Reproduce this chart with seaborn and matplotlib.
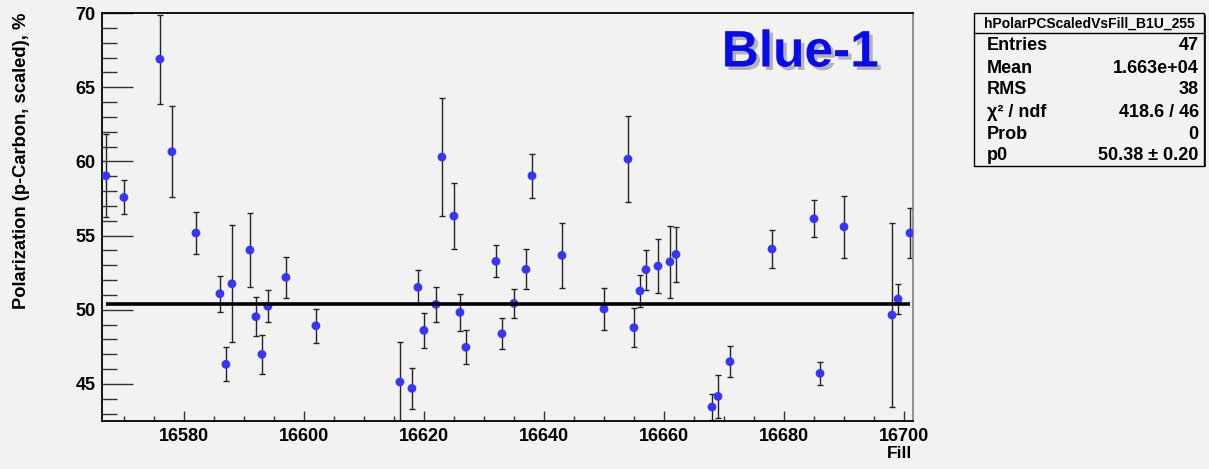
import matplotlib
matplotlib.use("Agg")
import matplotlib.pyplot as plt
from matplotlib.ticker import MultipleLocator
from matplotlib.patches import Rectangle
import matplotlib.patheffects as pe
import numpy as np
import pandas as pd
import seaborn as sns

# ---- data ----
fills = [16567, 16570, 16576, 16578, 16582, 16586, 16587, 16588, 16591, 16592,
         16593, 16594, 16597, 16602, 16616, 16618, 16619, 16620, 16622, 16623,
         16625, 16626, 16627, 16632, 16633, 16635, 16637, 16638, 16643, 16650,
         16654, 16655, 16656, 16657, 16659, 16661, 16662, 16668, 16669, 16671,
         16678, 16685, 16686, 16690, 16698, 16699, 16701]
polarization = [59.03, 57.57, 66.89, 60.65, 55.17, 51.08, 46.32, 51.75, 54.02, 49.53,
                46.99, 50.23, 52.18, 48.92, 45.13, 44.70, 51.51, 48.61, 50.36, 60.29,
                56.31, 49.82, 47.47, 53.26, 48.38, 50.43, 52.72, 59.03, 53.66, 50.05,
                60.15, 48.79, 51.26, 52.70, 52.94, 53.23, 53.73, 43.44, 44.16, 46.50,
                54.09, 56.13, 45.71, 55.59, 49.64, 50.72, 55.17]
errors = [2.80, 1.15, 3.00, 3.08, 1.40, 1.20, 1.15, 3.95, 2.48, 1.30,
          1.30, 1.07, 1.37, 1.15, 2.67, 1.39, 1.14, 1.20, 1.20, 3.98,
          2.25, 1.26, 1.14, 1.08, 1.04, 1.00, 1.35, 1.48, 2.18, 1.40,
          2.90, 1.33, 1.08, 1.35, 1.80, 2.43, 1.86, 0.90, 1.44, 1.03,
          1.26, 1.26, 0.79, 2.09, 6.18, 1.00, 1.68]
fit_p0 = 50.38
fit_range = [16567, 16701]
x_ticks = [16580, 16600, 16620, 16640, 16660, 16680, 16700]
y_ticks = [45, 50, 55, 60, 65, 70]

stats_title = "hPolarPCScaledVsFill_B1U_255"
stats_names = ["Entries", "Mean", "RMS", "χ² / ndf", "Prob", "p0"]
stats_values = ["47", "1.663e+04", "38", "418.6 / 46", "0", "50.38 ± 0.20"]

df = pd.DataFrame({"Fill": fills, "Pol": polarization, "Err": errors})

plt.rcParams['font.family'] = ['Liberation Sans', 'DejaVu Sans']
plt.rcParams['font.weight'] = 'bold'

W, H = 1209, 469
BG = '#f2f2f2'
fig = plt.figure(figsize=(W / 100, H / 100), dpi=100, facecolor=BG)

def fx(px):
    return px / W

def fy(py):
    return 1 - py / H

L, R, T, B = 102.3, 912.7, 13.0, 421.0
ax = fig.add_axes([fx(L), fy(B), (R - L) / W, (B - T) / H])
ax.set_facecolor(BG)

ax.errorbar(df["Fill"], df["Pol"], yerr=df["Err"], fmt='none', ecolor='#222222',
            elinewidth=1.0, capsize=2.5, capthick=1.0, zorder=2)
sns.scatterplot(data=df, x="Fill", y="Pol", ax=ax, color='#3535ff', s=40,
                edgecolor='none', linewidth=0, zorder=3, legend=False)
ax.hlines(fit_p0, fit_range[0], fit_range[1], colors='black', linewidth=2.6, zorder=4)

ax.set_xlim(16566.4, 16701.45)
ax.set_ylim(42.5, 70)
ax.set_xticks(x_ticks)
ax.set_yticks(y_ticks)
ax.xaxis.set_minor_locator(MultipleLocator(5))
ax.yaxis.set_minor_locator(MultipleLocator(1))
ax.tick_params(axis='y', which='major', direction='in', length=22, width=1.0,
               pad=5, labelsize=13, color='#333333')
ax.tick_params(axis='y', which='minor', direction='in', length=11, width=1.0, color='#333333')
ax.tick_params(axis='x', which='major', direction='in', length=7, width=1.0,
               pad=5, labelsize=13, color='#333333')
ax.tick_params(axis='x', which='minor', direction='in', length=3.5, width=1.0, color='#333333')
for lab in ax.get_xticklabels() + ax.get_yticklabels():
    lab.set_fontweight('bold')
ax.set_xlabel("")
ax.set_ylabel("")
for side in ['left', 'bottom', 'top']:
    ax.spines[side].set_color('black')
    ax.spines[side].set_linewidth(1.3)
ax.spines['right'].set_color('#888888')
ax.spines['right'].set_linewidth(1.3)

# axis titles
fig.text(fx(22), fy(13), "Polarization (p-Carbon, scaled), %", rotation=90,
         ha='center', va='top', fontsize=13.2, fontweight='bold')
fig.text(fx(912), fy(453), "Fill", ha='right', va='center', fontsize=12.5, fontweight='bold')

# big label
fig.text(fx(800), fy(53), "Blue-1", ha='center', va='center', fontsize=37,
         fontweight='bold', color='#0a0aee',
         path_effects=[pe.SimplePatchShadow(offset=(2.5, -2.5), shadow_rgbFace='#555555', alpha=0.4),
                       pe.Normal()])

# stats box
bx0, bx1, by0, by1 = 974.3, 1204.3, 13.3, 165.7
shadow = Rectangle((fx(bx0 + 1.5), fy(by1 + 1.5)), (bx1 - bx0) / W, (by1 - by0) / H,
                   transform=fig.transFigure, facecolor='#333333', edgecolor='none', zorder=1)
fig.patches.append(shadow)
box = Rectangle((fx(bx0), fy(by1)), (bx1 - bx0) / W, (by1 - by0) / H,
                transform=fig.transFigure, facecolor=BG, edgecolor='black',
                linewidth=1.0, zorder=2)
fig.patches.append(box)
fig.add_artist(plt.Line2D([fx(bx0), fx(bx1)], [fy(33.3), fy(33.3)],
                          transform=fig.transFigure, color='black', linewidth=1.0, zorder=3))
fig.text(fx((bx0 + bx1) / 2), fy(23.3), stats_title, ha='center', va='center',
         fontsize=10, fontweight='bold', zorder=4)
row_y = [45.7, 68.3, 90.0, 112.7, 134.3, 156.0]
for name, val, yy in zip(stats_names, stats_values, row_y):
    fig.text(fx(986.7), fy(yy), name, ha='left', va='center', fontsize=13,
             fontweight='bold', zorder=4)
    fig.text(fx(1198.7), fy(yy), val, ha='right', va='center', fontsize=13,
             fontweight='bold', zorder=4)

fig.savefig("out.png", dpi=100, facecolor=BG)
